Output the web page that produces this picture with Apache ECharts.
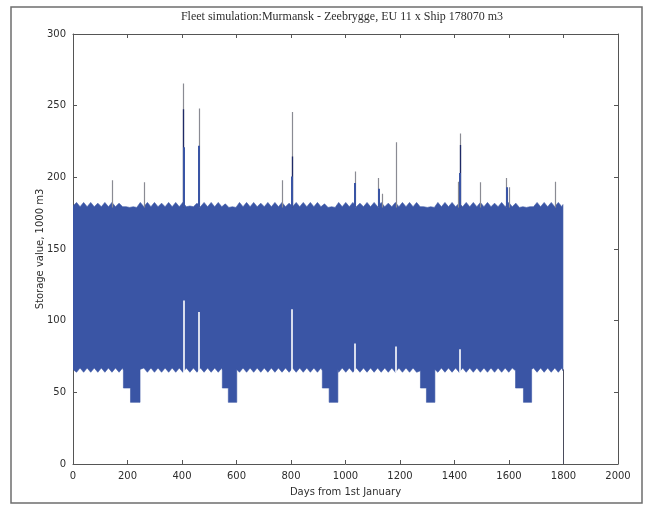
<!DOCTYPE html>
<html>
<head>
<meta charset="utf-8">
<script src="https://cdn.jsdelivr.net/npm/echarts@6/dist/echarts.min.js"></script>
<style>
  html, body { margin: 0; padding: 0; background: #ffffff; }
  #chart { width: 648px; height: 506px; }
</style>
</head>
<body>
<div id="chart"></div>
<script>
// Storage level at the export terminal, 1000 m3, by simulation day.
const titleText = 'Fleet simulation:Murmansk - Zeebrygge, EU 11 x Ship 178070 m3';
const xName = 'Days from 1st January';
const yName = 'Storage value, 1000 m3';

// Upper envelope of the storage curve: [day, value]
const upperEdge = [
  [0,180],[13,182.5],[26,179.5],[39,182.5],[52,179.5],[65,182.5],[78,179.5],[91,182],[104,179.5],[117,182.5],
  [130,179.5],[143,182.5],[156,179.5],[169,182],[182,179.5],[195,179.5],[208,179],[221,179.5],[234,179],[247,182.5],
  [260,179.5],[273,182.5],[286,179.5],[299,182.5],[312,179.5],[325,182],[338,179.5],[351,182.5],[364,179.5],[377,182.5],
  [390,179.5],[403,182.5],[416,179.5],[429,180],[442,179.5],[455,182],[468,179.5],[481,182.5],[494,179.5],[507,182.5],
  [520,179.5],[533,182.5],[546,179.5],[559,181.5],[572,179],[585,179.5],[598,179],[611,182.5],[624,179.5],[637,182.5],
  [650,179.5],[663,182.5],[676,179.5],[689,182],[702,179.5],[715,182.5],[728,179.5],[741,182.5],[754,179.5],[767,182.5],
  [780,179.5],[793,182],[806,179.5],[819,182.5],[832,179.5],[845,182.5],[858,179.5],[871,182.5],[884,179.5],[897,182.5],
  [910,179.5],[923,181.5],[936,179],[949,179.5],[962,179],[975,182.5],[988,179.5],[1001,182.5],[1014,179.5],[1027,182.5],
  [1040,179.5],[1053,182],[1066,179.5],[1079,182.5],[1092,179.5],[1105,182.5],[1118,179.5],[1131,182.5],[1144,179.5],[1157,182],
  [1170,179.5],[1183,182.5],[1196,179.5],[1209,182.5],[1222,179.5],[1235,182.5],[1248,179.5],[1261,182.5],[1274,179.5],[1287,179.5],
  [1300,179],[1313,179.5],[1326,179],[1339,182.5],[1352,179.5],[1365,182.5],[1378,179.5],[1391,182.5],[1404,179.5],[1417,182],
  [1430,179.5],[1443,182.5],[1456,179.5],[1469,182.5],[1482,179.5],[1495,182.5],[1508,179.5],[1521,182.5],[1534,179.5],[1547,182],
  [1560,179.5],[1573,182.5],[1586,179.5],[1599,182.5],[1612,179.5],[1625,182],[1638,179],[1651,179.5],[1664,179],[1677,179.5],
  [1690,179.5],[1703,182.5],[1716,179.5],[1729,182.5],[1742,179.5],[1755,182.5],[1768,179.5],[1781,182.5],[1794,179.5],[1798,181]
];

// Lower envelope of the storage curve, including the yearly low-production dips: [day, value]
const lowerEdge = [
  [0,66],[13,64],[26,67],[39,64],[52,67],[65,64],[78,67],[91,64],[104,67],[117,64],[130,67],[143,64],[156,67],[169,64],[182,67],
  [185,65],[185,53],[211,53],[211,43],[246,43],[246,66],
  [260,67],[273,64],[286,67],[299,64],[312,67],[325,64],[338,67],[351,64],[364,67],[377,64],[390,67],[403,64],[416,67],[429,64],
  [442,67],[455,64],[468,67],[481,64],[494,67],[507,64],[520,67],[533,64],[546,67],
  [548,65],[548,53],[570,53],[570,43],[601,43],[601,66],
  [611,64],[624,67],[637,64],[650,67],[663,64],[676,67],[689,64],[702,67],[715,64],[728,67],[741,64],[754,67],[767,64],
  [780,67],[793,64],[806,67],[819,64],[832,67],[845,64],[858,67],[871,64],[884,67],[897,64],[910,67],
  [915,65],[915,53],[940,53],[940,43],[972,43],[972,66],
  [975,64],[988,67],[1001,64],[1014,67],[1027,64],[1040,67],[1053,64],[1066,67],[1079,64],[1092,67],[1105,64],[1118,67],
  [1131,64],[1144,67],[1157,64],[1170,67],[1183,64],[1196,67],[1209,64],[1222,67],[1235,64],[1248,67],[1261,64],
  [1275,65],[1275,53],[1297,53],[1297,43],[1328,43],[1328,66],
  [1339,64],[1352,67],[1365,64],[1378,67],[1391,64],[1404,67],[1417,64],[1430,67],[1443,64],[1456,67],[1469,64],[1482,67],
  [1495,64],[1508,67],[1521,64],[1534,67],[1547,64],[1560,67],[1573,64],[1586,67],[1599,64],[1612,67],
  [1624,65],[1624,53],[1653,53],[1653,43],[1683,43],[1683,66],
  [1690,67],[1703,64],[1716,67],[1729,64],[1742,67],[1755,64],[1768,67],[1781,64],[1794,67],[1798,65]
];

// Overflow peaks above the normal maximum (1000 m3)
const spikeDays  = [144, 262, 405, 462, 769, 804, 1035, 1122, 1135, 1185, 1412, 1421, 1495, 1591, 1602, 1771];
const spikePeaks = [198, 196.5, 265.5, 248, 198, 245.5, 204, 199.5, 188.5, 224.5, 197, 230.5, 196.5, 199.5, 193, 197];
const spikeMid   = [null, null, 247.5, null, null, 214.5, null, null, null, null, null, 222.5, null, null, null, null];
const spikeBase  = [null, null, 221, 222, null, 200.5, 196, 192, null, null, null, 203, null, 193, null, null];
const spikeFoot = 179;

// Days where the minimum stayed high (storage never fell to the normal low)
const gapDays = [405, 462, 804, 1035, 1185, 1421];
const gapTops = [114, 106, 108, 84, 82, 80];
const gapFoot = 64;

// End of simulation: storage emptied
const endDay = 1800;
const endFrom = 66;
const endValue = 0;

const BLUE = '#3a55a5';
const AXIS = '#555555';
const TEXT = '#2e2e2e';
const FONT = 'DejaVu Sans';

const chart = echarts.init(document.getElementById('chart'), null, { renderer: 'canvas' });

function vLines(days, tops, foot) {
  const out = [];
  days.forEach((d, i) => {
    if (tops[i] != null) out.push({ coords: [[d, foot], [d, tops[i]]] });
  });
  return out;
}

const axisCommon = {
  type: 'value',
  splitLine: { show: false },
  axisLine: { show: true, onZero: false, lineStyle: { color: AXIS, width: 1 } },
  axisTick: { show: true, inside: true, length: 4, lineStyle: { color: AXIS, width: 1 } }
};

const plainNumber = v => String(v);

const option = {
  animation: false,
  backgroundColor: '#ffffff',
  grid: { left: 73, right: 30, top: 34, bottom: 42, outerBoundsMode: 'none', containLabel: false },
  graphic: [
    {
      type: 'rect', silent: true,
      shape: { x: 11, y: 7, width: 631, height: 496 },
      style: { fill: 'none', stroke: '#6e6e6e', lineWidth: 1.5 }
    },
    {
      type: 'text', silent: true, x: 342, y: 17,
      style: {
        text: titleText, fill: TEXT, font: '12px "Liberation Serif"',
        textAlign: 'center', textVerticalAlign: 'middle'
      }
    }
  ],
  xAxis: [
    Object.assign({}, axisCommon, {
      min: 0, max: 2000, interval: 200, position: 'bottom',
      axisLabel: { color: TEXT, fontFamily: FONT, fontSize: 10, margin: 7, formatter: plainNumber,
                   showMinLabel: true, showMaxLabel: true },
      name: xName, nameLocation: 'middle', nameGap: 23, nameMoveOverlap: false,
      nameTextStyle: { color: TEXT, fontFamily: FONT, fontSize: 10 }
    }),
    Object.assign({}, axisCommon, {
      min: 0, max: 2000, interval: 200, position: 'top',
      axisLabel: { show: false }
    })
  ],
  yAxis: [
    Object.assign({}, axisCommon, {
      min: 0, max: 300, interval: 50, position: 'left',
      axisLabel: { color: TEXT, fontFamily: FONT, fontSize: 10, margin: 7, formatter: plainNumber,
                   showMinLabel: true, showMaxLabel: true },
      name: yName, nameLocation: 'middle', nameGap: 28, nameMoveOverlap: false,
      nameTextStyle: { color: TEXT, fontFamily: FONT, fontSize: 10 }
    }),
    Object.assign({}, axisCommon, {
      min: 0, max: 300, interval: 50, position: 'right',
      axisLabel: { show: false }
    })
  ],
  series: [
    {
      // storage band between lower and upper envelope
      type: 'custom',
      xAxisIndex: 0, yAxisIndex: 0,
      silent: true, clip: true, z: 2,
      data: [[0, 0]],
      renderItem: function (params, api) {
        if (params.dataIndex !== 0) return null;
        const pts = upperEdge.map(p => api.coord(p))
          .concat(lowerEdge.slice().reverse().map(p => api.coord(p)));
        return {
          type: 'polygon',
          shape: { points: pts },
          style: { fill: BLUE, stroke: BLUE, lineWidth: 0.6 }
        };
      }
    },
    {
      type: 'lines', coordinateSystem: 'cartesian2d', xAxisIndex: 0, yAxisIndex: 0,
      silent: true, z: 3, polyline: false,
      lineStyle: { color: '#ffffff', width: 1.6, opacity: 1 },
      data: vLines(gapDays, gapTops, gapFoot)
    },
    {
      type: 'lines', coordinateSystem: 'cartesian2d', xAxisIndex: 0, yAxisIndex: 0,
      silent: true, z: 3, polyline: false,
      lineStyle: { color: '#8a8b93', width: 1.2, opacity: 1 },
      data: vLines(spikeDays, spikePeaks, spikeFoot)
    },
    {
      type: 'lines', coordinateSystem: 'cartesian2d', xAxisIndex: 0, yAxisIndex: 0,
      silent: true, z: 4, polyline: false,
      lineStyle: { color: '#1f2a66', width: 1.3, opacity: 1 },
      data: vLines(spikeDays, spikeMid, spikeFoot)
    },
    {
      type: 'lines', coordinateSystem: 'cartesian2d', xAxisIndex: 0, yAxisIndex: 0,
      silent: true, z: 5, polyline: false,
      lineStyle: { color: BLUE, width: 2, opacity: 1 },
      data: vLines(spikeDays, spikeBase, spikeFoot)
    },
    {
      type: 'lines', coordinateSystem: 'cartesian2d', xAxisIndex: 0, yAxisIndex: 0,
      silent: true, z: 3, polyline: false,
      lineStyle: { color: '#4a4c5c', width: 1, opacity: 1 },
      data: [{ coords: [[endDay, endFrom], [endDay, endValue]] }]
    }
  ]
};

chart.setOption(option);
</script>
</body>
</html>
